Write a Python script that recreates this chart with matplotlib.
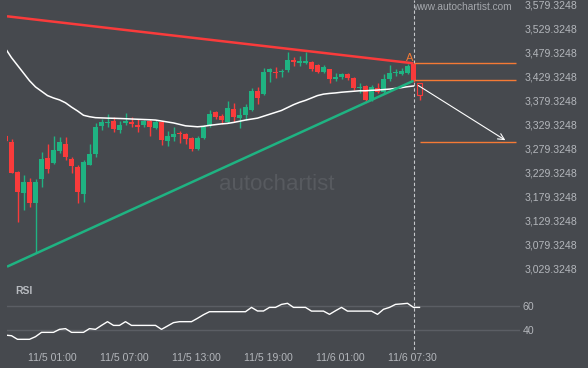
import matplotlib
matplotlib.use("Agg")
import matplotlib.pyplot as plt
from matplotlib.patches import Rectangle
import numpy as np

plt.rcParams['font.family'] = ['Liberation Sans', 'DejaVu Sans']

# candles, index -1 .. 67 (30 min bars), last one is 11/6 07:30
opens = [3305.8, 3293.9, 3231.4, 3187.6, 3209.9, 3166.8, 3216.2, 3259.9, 3250.1, 3274.5,
         3289.1, 3257.2, 3241.2, 3184.3, 3246.0, 3268.9, 3326.6, 3332.2, 3337.0, 3318.3,
         3332.2, 3335.6, 3328.7, 3328.7, 3337.0, 3323.1, 3335.6, 3296.0, 3304.3, 3312.6,
         3309.9, 3301.0, 3278.7, 3301.6, 3326.6, 3355.8, 3347.4, 3335.6, 3361.4, 3342.6,
         3349.5, 3359.9, 3399.5, 3393.3, 3439.7, 3439.7, 3439.7, 3443.3, 3464.1, 3458.5,
         3457.2, 3459.9, 3453.7, 3439.7, 3444.7, 3423.9, 3428.1, 3434.3, 3427.2, 3405.1,
         3409.9, 3380.8, 3406.4, 3398.1, 3423.9, 3436.4, 3434.3, 3436.4, 3456.8]
highs = [3307.0, 3298.9, 3232.0, 3224.5, 3217.6, 3215.6, 3273.1, 3289.1, 3305.8, 3304.3,
         3304.3, 3262.6, 3245.4, 3255.8, 3289.1, 3333.5, 3340.6, 3351.6, 3346.0, 3337.6,
         3353.1, 3346.0, 3340.6, 3339.1, 3340.6, 3339.1, 3337.6, 3316.8, 3323.9, 3316.8,
         3311.0, 3304.3, 3305.8, 3328.7, 3359.9, 3358.5, 3351.6, 3378.7, 3373.9, 3363.5,
         3372.4, 3405.8, 3408.5, 3447.4, 3447.0, 3449.5, 3445.4, 3480.1, 3470.4, 3472.4,
         3480.1, 3461.0, 3455.1, 3453.7, 3445.4, 3436.4, 3437.6, 3436.4, 3428.5, 3415.6,
         3412.0, 3412.0, 3415.6, 3434.3, 3453.7, 3444.7, 3446.8, 3455.1, 3457.0]
lows = [3294.0, 3228.1, 3127.2, 3151.6, 3158.5, 3061.4, 3198.9, 3229.3, 3247.4, 3269.7,
        3255.8, 3229.3, 3166.8, 3168.9, 3244.7, 3261.4, 3318.3, 3325.1, 3314.7, 3312.6,
        3328.7, 3325.1, 3314.7, 3325.1, 3306.4, 3319.7, 3287.0, 3284.9, 3296.0, 3291.8,
        3289.1, 3274.5, 3276.6, 3300.1, 3323.9, 3341.2, 3330.8, 3333.5, 3335.6, 3321.8,
        3339.1, 3357.9, 3371.8, 3391.2, 3418.9, 3426.6, 3429.3, 3439.7, 3451.6, 3451.6,
        3455.1, 3441.8, 3436.4, 3437.0, 3415.6, 3420.4, 3423.9, 3422.4, 3401.6, 3396.0,
        3377.2, 3378.7, 3394.7, 3396.0, 3421.0, 3430.8, 3432.9, 3434.3, 3418.9]
closes = [3295.4, 3229.3, 3189.7, 3209.9, 3166.8, 3209.9, 3257.9, 3237.0, 3276.6, 3293.9,
          3262.6, 3243.9, 3189.7, 3251.6, 3267.6, 3325.1, 3335.6, 3335.6, 3319.7, 3328.7,
          3337.0, 3330.1, 3325.1, 3337.0, 3325.1, 3335.6, 3297.4, 3306.4, 3310.6, 3310.6,
          3300.1, 3278.1, 3301.6, 3325.1, 3351.6, 3346.0, 3339.1, 3363.5, 3346.0, 3349.5,
          3366.8, 3399.5, 3385.6, 3439.7, 3445.4, 3437.6, 3441.2, 3464.1, 3460.6, 3461.4,
          3462.6, 3444.7, 3438.5, 3448.9, 3423.9, 3428.1, 3434.9, 3426.0, 3406.4, 3408.5,
          3380.8, 3408.5, 3398.1, 3423.9, 3436.4, 3439.1, 3441.8, 3451.6, 3420.4]

# forming candle after the pattern end (hollow)
next_ohlc = [3415.6, 3415.6, 3380.8, 3391.2]

moving_avg = [3488, 3469, 3453, 3437, 3421, 3408, 3399, 3390, 3385, 3381,
              3375, 3366, 3358, 3349, 3346, 3344, 3343.5, 3343, 3342.7, 3342.3,
              3341.8, 3341.2, 3340.7, 3340.2, 3339.7, 3339, 3337, 3335, 3333, 3330,
              3327, 3326, 3325, 3326, 3328, 3329.5, 3331, 3332, 3334, 3336.5,
              3339, 3341, 3343, 3347, 3351, 3355, 3359, 3365, 3371, 3376,
              3380, 3385, 3390, 3393, 3394.5, 3395.5, 3397, 3398, 3399, 3400,
              3400, 3401, 3401.5, 3402.5, 3403.5, 3405, 3406.5, 3408.5, 3410]

rsi = [36, 35.5, 32.5, 32.5, 32.5, 34.7, 38.3, 38.3, 38.3, 40.8,
       41.4, 38.3, 38.3, 38.3, 41.4, 40.8, 44.1, 47.2, 44.1, 44.1,
       47.2, 44.1, 44.1, 44.1, 44.1, 44.1, 40.8, 43.6, 46.4, 47.2,
       47.2, 47.2, 50, 53, 55.5, 55.5, 55.5, 55.5, 55.5, 55.5,
       55.5, 59.1, 56.1, 56.1, 59.1, 59.1, 61.6, 62.5, 59.1, 59.1,
       59.1, 56, 56, 56, 53.3, 56.3, 59.1, 56, 56, 56,
       56, 56, 53.3, 57.5, 59.1, 61.6, 62, 62.5, 59.1, 59.1]

# triangle (start idx, end idx) and prices
tri_x = [-0.75, 67]
resist_y = [3555.2, 3457.2]
support_y = [3033.5, 3420.8]

levels = [3457.9, 3421.8, 3292.7]
level_start = [67, 67, 68]
forecast_from = (67.4, 3414.1)
forecast_to = (82.7, 3293.9)

price_ticks = [3029.3248 + 50 * k for k in range(12)]
time_labels = ['11/5 01:00', '11/5 07:00', '11/5 13:00', '11/5 19:00', '11/6 01:00', '11/6 07:30']
time_pos = [6.75, 18.75, 30.75, 42.75, 54.75, 66.75]

bg = '#46494e'
green = '#1fb382'
red = '#f93b3b'
orange = '#f57a35'
txt = '#b3b6bb'

W, H = 588, 368
fig = plt.figure(figsize=(W / 100, H / 100), dpi=100, facecolor=bg)


def px_axes(x0, y0, x1, y1):
    return fig.add_axes([x0 / W, 1 - y1 / H, (x1 - x0) / W, (y1 - y0) / H])


ax = px_axes(7, 0, 520, 280)
rax = px_axes(7, 282, 520, 350)

for a in (ax, rax):
    a.set_facecolor(bg)
    for s in a.spines.values():
        s.set_visible(False)
    a.set_xlim(-0.75, 84.75)

# watermark
fig.text(277 / W, 1 - 185 / H, 'autochartist', color='#575a5f', fontsize=16,
         ha='center', va='center', zorder=0)
logo = [(183, 178, 4, 12), (190, 177, 3, 13), (195, 173, 5, 17), (202, 167, 3, 8),
        (208, 170, 2, 3), (213, 163, 4, 10), (220, 168, 3, 7), (227, 165, 3, 7), (232, 158, 3, 12)]
for lx, ly, lw_, lh in logo:
    fig.add_artist(Rectangle((lx / W, 1 - (ly + lh) / H), lw_ / W, lh / H,
                             transform=fig.transFigure, color='#55585d', lw=0, zorder=0))
fig.text(462 / W, 1 - 7 / H, 'www.autochartist.com', color='#a4a7ac', fontsize=7.3,
         ha='center', va='center')

opens = np.array(opens)
closes = np.array(closes)
idx = np.arange(len(opens)) - 1
colors = np.where(closes >= opens, green, red)

ax.vlines(idx, lows, highs, colors=colors, lw=1, zorder=3)
body_lo = np.minimum(opens, closes)
body_h = np.maximum(np.abs(closes - opens), 2.0)
ax.bar(idx, body_h, bottom=body_lo, width=0.78, color=colors, lw=0, zorder=4)

o, h, l, c = next_ohlc
nx = idx[-1] + 1
ax.vlines(nx, l, c, colors=red, lw=1, zorder=3)
ax.bar(nx, o - c, bottom=c, width=0.7, facecolor='none', edgecolor=red, lw=0.8, zorder=4)

ax.plot(np.arange(len(moving_avg)) - 1, moving_avg, color='white', lw=1.1, zorder=5)

ax.plot(tri_x, resist_y, color=red, lw=1.8, zorder=6, solid_capstyle='butt')
ax.plot(tri_x, support_y, color=green, lw=1.8, zorder=6, solid_capstyle='butt')

ax.hlines(levels, level_start, 84, colors=orange, lw=1, zorder=6)
ax.text(66.4, 3468, 'A', color=orange, fontsize=8, ha='center', va='center')
ax.annotate('', xy=forecast_to, xytext=forecast_from,
            arrowprops=dict(arrowstyle='->', color='white', lw=0.8, mutation_scale=11), zorder=7)

ax.set_ylim(3005.78, 3589.12)
ax.yaxis.tick_right()
ax.set_yticks(price_ticks)
ax.set_yticklabels([f"{v:,.4f}" for v in price_ticks])
ax.tick_params(axis='y', length=0, pad=3, labelsize=7.6, labelcolor=txt)
ax.set_xticks([])

# RSI panel
rax.set_ylim(23.6, 80.25)
for lv in (40, 60):
    rax.axhline(lv, color='#5b5e64', lw=1, zorder=1)
rax.plot(np.arange(len(rsi)) - 1, rsi, color='white', lw=1, zorder=3)
rax.yaxis.tick_right()
rax.set_yticks([40, 60])
rax.set_yticklabels(['40', '60'])
rax.tick_params(axis='y', length=0, pad=2, labelsize=7.6, labelcolor=txt)
rax.set_xticks(time_pos)
rax.set_xticklabels(time_labels)
rax.tick_params(axis='x', length=0, pad=2.5, labelsize=7.6, labelcolor=txt)
fig.text(15 / W, 1 - 291 / H, 'RSI', color='#b8bbc0', fontsize=7.5, fontweight='bold',
         va='center')

for a in (ax, rax):
    a.axvline(67, color='#c5c7ca', lw=0.8, ls=(0, (3, 2)), zorder=2)

fig.savefig('out.png', dpi=100, facecolor=bg)
